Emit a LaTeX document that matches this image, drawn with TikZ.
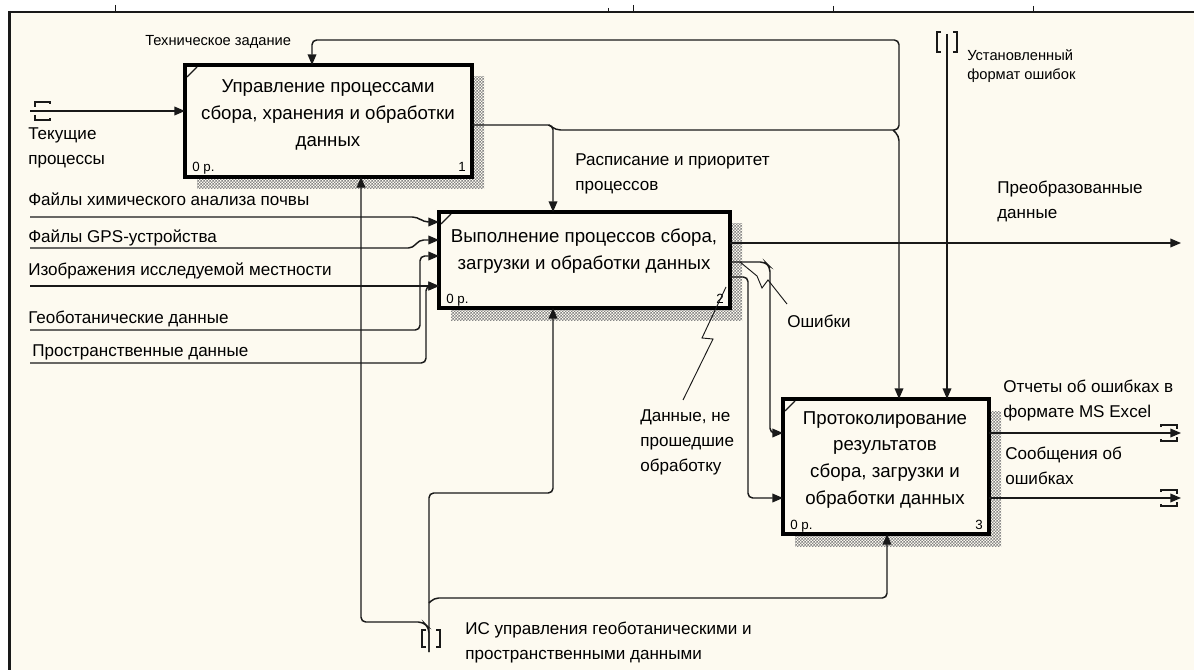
\documentclass[tikz,border=0pt]{standalone}
\usepackage{fontspec}
\setmainfont{Liberation Sans}
\usetikzlibrary{patterns,arrows.meta}
\definecolor{paper}{RGB}{253,250,240}
\definecolor{ink}{RGB}{25,25,25}
% fine checker used for the box shadows
\pgfdeclarepatternformonly{shadowchecks}{\pgfpointorigin}{\pgfpoint{2.2pt}{2.2pt}}{\pgfpoint{2.2pt}{2.2pt}}{%
  \pgfpathrectangle{\pgfpointorigin}{\pgfpoint{1.1pt}{1.1pt}}%
  \pgfpathrectangle{\pgfpoint{1.1pt}{1.1pt}}{\pgfpoint{1.1pt}{1.1pt}}%
  \pgfusepath{fill}}
% multi-line texts: baseline of the node = baseline of the first line
\newcommand{\txtlines}[1]{\begin{tabular}[t]{@{}l@{}}#1\end{tabular}}
\newcommand{\ctrlines}[1]{\begin{tabular}[t]{@{}c@{}}#1\end{tabular}}

\begin{document}
\begin{tikzpicture}[x=0.75pt,y=-0.75pt,
  conn/.style={draw=ink,line width=1.1pt,rounded corners=3.5pt},
  arr/.style={conn,-{Triangle[length=8pt,width=6.5pt]}},
  func/.style={draw=black,line width=2.8pt,fill=paper,inner sep=0pt,outer sep=0pt,anchor=north west},
  shade/.style={pattern=shadowchecks,pattern color=black!48},
  boxtxt/.style={inner sep=0pt,anchor=base,font=\fontsize{14}{20}\selectfont},
  lbl/.style={inner sep=0pt,anchor=base west,font=\fontsize{12.8}{18.75}\selectfont},
  small/.style={inner sep=0pt,anchor=base west,font=\fontsize{11}{14.25}\selectfont},
  tag/.style={inner sep=0pt,font=\fontsize{10}{12}\selectfont},
  tun/.style={draw=ink,line width=1.1pt},
  callout/.style={draw=ink,line width=0.7pt},
  corner/.style={draw=ink,line width=0.9pt},
]
\useasboundingbox (0,0) rectangle (1194,670);
\fill[white] (0,0) rectangle (1194,670);
\fill[paper] (9,12) rectangle (1194,670);

% sheet frame and the stubs of the header table
\draw[ink,line width=0.9pt] (9,12) -- (1194,12);
\draw[ink,line width=2.4pt] (9.5,11) -- (9.5,670);
\foreach \tx/\ty in {115/5,608/8,633/5,833/6,1033/6}
  \draw[ink,line width=0.6pt] (\tx,\ty) -- (\tx,12);

% ---------- activity boxes with hatched shadows ----------
\fill[shade] (197,77) rectangle (484,189);
\node[func,minimum width=215.25pt,minimum height=84pt] (b1) at (185,65) {};
\fill[shade] (451,224) rectangle (742,320);
\node[func,minimum width=218.25pt,minimum height=72pt] (b2) at (439,212) {};
\fill[shade] (795,411) rectangle (1001,546);
\node[func,minimum width=154.5pt,minimum height=101.25pt] (b3) at (783,399) {};

\foreach \b in {b1,b2,b3}{
  \draw[corner] ([shift={(2,12)}]\b.north west) -- ([shift={(12,2)}]\b.north west);
}

\node[boxtxt] (b1t) at (328,93) {\ctrlines{Управление процессами\\сбора, хранения и обработки\\данных}};
\node[boxtxt] (b2t) at (584,243) {\ctrlines{Выполнение процессов сбора,\\загрузки и обработки данных}};
\node[boxtxt] (b3t) at (885,424) {\ctrlines{Протоколирование\\результатов\\сбора, загрузки и\\обработки данных}};

\node[tag,anchor=base west] (b1c) at ([shift={(7,-5)}]b1.south west) {0 р.};
\node[tag,anchor=base east] (b1n) at ([shift={(-6,-5)}]b1.south east) {1};
\node[tag,anchor=base west] (b2c) at ([shift={(7,-5)}]b2.south west) {0 р.};
\node[tag,anchor=base east] (b2n) at ([shift={(-6,-5)}]b2.south east) {2};
\node[tag,anchor=base west] (b3c) at ([shift={(7,-5)}]b3.south west) {0 р.};
\node[tag,anchor=base east] (b3n) at ([shift={(-6,-5)}]b3.south east) {3};

% ---------- free arrow ends ----------
\coordinate (tp) at (30,111);
\coordinate (in1) at (30,217);
\coordinate (in2) at (30,248);
\coordinate (in3) at (30,286);
\coordinate (in4) at (30,330);
\coordinate (in5) at (30,363);
\coordinate (uf) at (947,34);
\coordinate (is) at (429,652);
\coordinate (pd) at (1181,243);
\coordinate (rep) at (1181,433);
\coordinate (msg) at (1181,498);
\coordinate (br1) at (549,125);
\coordinate (br2) at (893,130);
\coordinate (br3) at (429,603);

% ---------- arrows ----------
% current processes into box 1
\draw[arr] (tp) -- (b1.west |- tp);
\draw[tun] (35,107) -- (35,102) -- (50,102) -- (50,104);
\draw[tun] (35,115) -- (35,120) -- (50,120) -- (50,118);

% box 1 output: schedule to box 2, loop back to box 1, and down to box 3
\draw[arr] (b1.east |- br1) -- (553,125) -- (b2.north -| 553,0);
\draw[arr] (br1) -- (556,130) -- (899,130) -- (899,40) -- (312,40) -- (b1.north -| 312,0);
\draw[arr] (br2) -- (899,136) -- (b3.north -| 899,0);

% error format control into box 3
\draw[arr] (uf) -- (b3.north -| uf);
\draw[tun] (941,32) -- (937,32) -- (937,52) -- (941,52);
\draw[tun] (953,32) -- (957,32) -- (957,52) -- (953,52);

% data inputs into box 2
\draw[arr] (in1) -- (417,217) -- (424,222) -- (b2.west |- 0,222);
\draw[arr] (in2) -- (413,248) -- (419,240) -- (b2.west |- 0,240);
\draw[arr] (in3) -- (b2.west |- in3);
\draw[arr] (in4) -- (420,330) -- (420,256) -- (b2.west |- 0,256);
\draw[arr] (in5) -- (426,363) -- (426,286) -- (b2.west |- 0,286);

% mechanism: information system
\draw[arr] (is) -- (429,628) -- (423,622) -- (361,622) -- (b1.south -| 361,0);
\draw[arr] (is) -- (429,493) -- (553,493) -- (b2.south -| 553,0);
\draw[arr] (br3) -- (434,598) -- (887,598) -- (b3.south -| 887,0);
\draw[tun] (426,630) -- (422,630) -- (422,647) -- (426,647);
\draw[tun] (436,630) -- (440,630) -- (440,647) -- (436,647);

% box 2 outputs
\draw[arr] (b2.east |- pd) -- (pd);
\draw[arr] (b2.east |- 0,262) -- (765,262) -- (770,267) -- (770,433) -- (b3.west |- 0,433);
\draw[arr] (b2.east |- 0,277) -- (748,277) -- (748,498) -- (b3.west |- 0,498);

% box 3 outputs with tunnels
\draw[arr] (b3.east |- rep) -- (rep);
\draw[arr] (b3.east |- msg) -- (msg);
\foreach \yy in {433,498}{
  \draw[tun] (1161,\yy-6) -- (1161,\yy-8) -- (1177,\yy-8) -- (1177,\yy-4);
  \draw[tun] (1161,\yy+6) -- (1161,\yy+8) -- (1177,\yy+8) -- (1177,\yy+4);
}

% label callouts
\draw[callout] (787,304) -- (768,280) -- (762,288) -- (757,276) -- (740,262);
\draw[callout] (683,400) -- (713,339) -- (702,338) -- (726,287);

% ---------- labels ----------
\node[small] (l1) at (145,46) {Техническое задание};
\node[lbl] (l2) at (28,140) {\txtlines{Текущие\\процессы}};
\node[small] (l3) at (967,61) {\txtlines{Установленный\\формат ошибок}};
\node[lbl] (l4) at (575,166) {\txtlines{Расписание и приоритет\\процессов}};
\node[lbl] (l5) at (997,194) {\txtlines{Преобразованные\\данные}};
\node[lbl] (l6) at (28,206) {Файлы химического анализа почвы};
\node[lbl] (l7) at (28,243) {Файлы GPS-устройства};
\node[lbl] (l8) at (28,275) {Изображения исследуемой местности};
\node[lbl] (l9) at (28,323) {Геоботанические данные};
\node[lbl] (l10) at (32,356) {Пространственные данные};
\node[lbl] (l11) at (787,327) {Ошибки};
\node[lbl] (l12) at (640,421) {\txtlines{Данные, не\\прошедшие\\обработку}};
\node[lbl] (l13) at (1003,392) {\txtlines{Отчеты об ошибках в\\формате MS Excel}};
\node[lbl] (l14) at (1005,459) {\txtlines{Сообщения об\\ошибках}};
\node[lbl] (l15) at (465,634) {\txtlines{ИС управления геоботаническими и\\пространственными данными}};
\end{tikzpicture}
\end{document}
